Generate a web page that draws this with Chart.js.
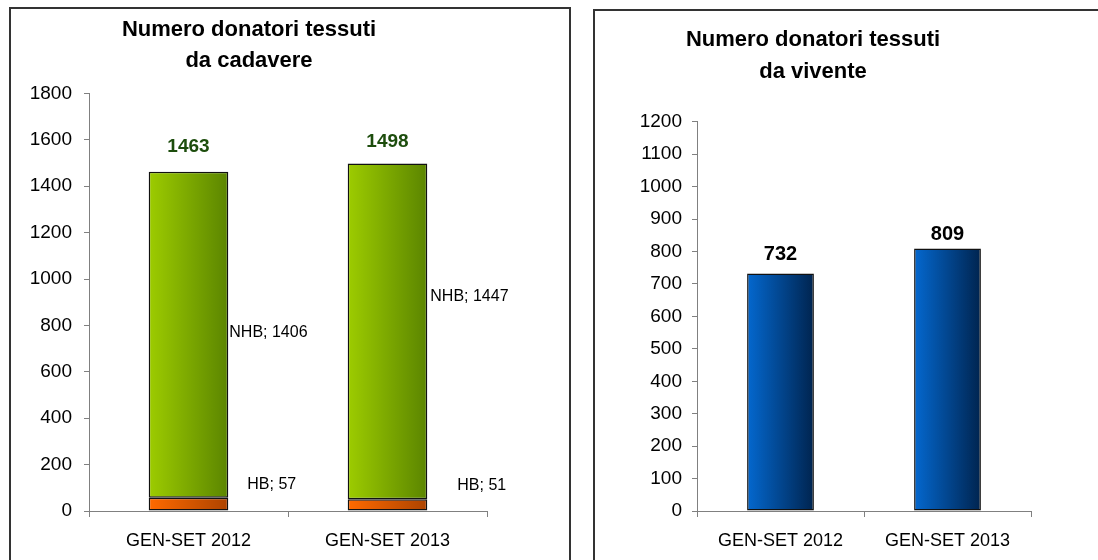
<!DOCTYPE html>
<html>
<head>
<meta charset="utf-8">
<script src="https://cdn.jsdelivr.net/npm/chart.js@4/dist/chart.umd.min.js"></script>
<style>
  html, body { margin:0; padding:0; background:#fff; width:1098px; height:560px; overflow:hidden; }
  .wrap { position:absolute; border:2px solid #333; box-sizing:content-box; background:#fff; }
  #w1 { left:9px; top:7px; width:558px; height:560px; }
  #w2 { left:593px; top:9px; width:510px; height:560px; }
  .inner { position:relative; width:100%; height:100%; }
</style>
</head>
<body>
<div class="wrap" id="w1"><div class="inner"><canvas id="c1"></canvas></div></div>
<div class="wrap" id="w2"><div class="inner"><canvas id="c2"></canvas></div></div>
<script>
// ---- data ----
const categories = ['GEN-SET 2012', 'GEN-SET 2013'];
const hbValues = [57, 51];          // HB
const nhbValues = [1406, 1447];     // NHB
const viventeValues = [732, 809];   // donatori da vivente
const cadavereTitle = ['Numero donatori tessuti', 'da cadavere'];
const viventeTitle = ['Numero donatori tessuti', 'da vivente'];

const FONT = "'Liberation Sans', Arial, Helvetica, sans-serif";
const AXIS = '#808080';

function barGradient(ctx, c1, c2) {
  const chart = ctx.chart;
  const xs = chart.scales && chart.scales.x;
  if (!chart.chartArea || !xs || ctx.dataIndex === undefined) return c1;
  const cx = xs.getPixelForValue(ctx.dataIndex);
  const w = (xs.width / categories.length) * 0.4;
  const g = chart.ctx.createLinearGradient(cx - w / 2, 0, cx + w / 2, 0);
  g.addColorStop(0, c1);
  g.addColorStop(1, c2);
  return g;
}

function xScale(h) {
  return {
    stacked: true,
    grid: { display: true, drawOnChartArea: false, offset: true, tickLength: 6, color: AXIS, tickColor: AXIS },
    border: { display: true, color: AXIS, width: 1 },
    ticks: { font: { family: FONT, size: 18 }, color: '#000', padding: 13, maxRotation: 0 },
    afterFit: (s) => { s.height = h; }
  };
}
function yScale(max, step, w, pad) {
  return {
    stacked: true,
    min: 0, max: max,
    grid: { display: true, drawOnChartArea: false, tickLength: 5, color: AXIS, tickColor: AXIS },
    border: { display: true, color: AXIS, width: 1 },
    ticks: { stepSize: step, font: { family: FONT, size: 19 }, color: '#000', padding: pad,
             callback: (v) => String(v) },
    afterFit: (s) => { s.width = w; }
  };
}

// ---- left chart: cadavere ----
const nhbShift = [{dx: 1, dy: -2}, {dx: 3, dy: -35}];
const hbShift = [{dx: 19, dy: -20}, {dx: 30, dy: -19}];
const totalShift = [25, 22];

const leftLabels = {
  id: 'leftLabels',
  afterDatasetsDraw(chart) {
    const ctx = chart.ctx;
    const mHB = chart.getDatasetMeta(0), mNHB = chart.getDatasetMeta(1);
    ctx.save();
    ctx.textBaseline = 'middle';
    categories.forEach((c, i) => {
      const b = mNHB.data[i], h = mHB.data[i];
      const right = b.x + b.width / 2;
      ctx.font = 'bold 19px ' + FONT;
      ctx.fillStyle = '#1d4d0d';
      ctx.textAlign = 'center';
      ctx.fillText(String(hbValues[i] + nhbValues[i]), b.x, b.y - totalShift[i]);
      ctx.font = '16px ' + FONT;
      ctx.fillStyle = '#000';
      ctx.textAlign = 'left';
      ctx.fillText('NHB; ' + nhbValues[i], right + nhbShift[i].dx, (b.y + b.base) / 2 + nhbShift[i].dy);
      ctx.fillText('HB; ' + hbValues[i], right + hbShift[i].dx, (h.y + h.base) / 2 + hbShift[i].dy);
    });
    ctx.restore();
  }
};

new Chart(document.getElementById('c1'), {
  type: 'bar',
  data: {
    labels: categories,
    datasets: [
      { label: 'HB', data: hbValues,
        backgroundColor: (c) => barGradient(c, '#ff6a00', '#ad4300'),
        borderColor: '#111', borderWidth: 1.5, borderSkipped: false,
        barPercentage: 0.4, categoryPercentage: 1 },
      { label: 'NHB', data: nhbValues,
        backgroundColor: (c) => barGradient(c, '#9dcc00', '#5b8500'),
        borderColor: '#111', borderWidth: 1.5, borderSkipped: false,
        barPercentage: 0.4, categoryPercentage: 1 }
    ]
  },
  options: {
    responsive: true, maintainAspectRatio: false, animation: false,
    devicePixelRatio: 1,
    layout: { padding: { left: 0, right: 82, top: 0, bottom: 0 } },
    plugins: {
      legend: { display: false },
      tooltip: { enabled: false },
      title: { display: true, text: cadavereTitle, color: '#000',
        font: { family: FONT, size: 22, weight: 'bold', lineHeight: 1.42 },
        padding: { top: 5, bottom: 17 } }
    },
    scales: { x: xScale(58), y: yScale(1800, 200, 78, 12) }
  },
  plugins: [leftLabels]
});

// ---- right chart: vivente ----
const viventeShift = [19, 14];
const rightLabels = {
  id: 'rightLabels',
  afterDatasetsDraw(chart) {
    const ctx = chart.ctx;
    const m = chart.getDatasetMeta(0);
    ctx.save();
    ctx.textBaseline = 'middle';
    ctx.textAlign = 'center';
    ctx.font = 'bold 20px ' + FONT;
    ctx.fillStyle = '#000';
    m.data.forEach((b, i) => {
      ctx.fillText(String(viventeValues[i]), b.x, b.y - viventeShift[i]);
    });
    ctx.restore();
  }
};

new Chart(document.getElementById('c2'), {
  type: 'bar',
  data: {
    labels: categories,
    datasets: [
      { label: 'Vivente', data: viventeValues,
        backgroundColor: (c) => barGradient(c, '#0468cf', '#00244f'),
        borderColor: '#111', borderWidth: 1.5, borderSkipped: false,
        barPercentage: 0.4, categoryPercentage: 1 }
    ]
  },
  options: {
    responsive: true, maintainAspectRatio: false, animation: false,
    devicePixelRatio: 1,
    layout: { padding: { left: 0, right: 74, top: 0, bottom: 0 } },
    plugins: {
      legend: { display: false },
      tooltip: { enabled: false },
      title: { display: true, text: viventeTitle, color: '#000',
        font: { family: FONT, size: 22, weight: 'bold', lineHeight: 1.45 },
        padding: { top: 13, bottom: 34 } }
    },
    scales: { x: xScale(60), y: yScale(1200, 100, 102, 10) }
  },
  plugins: [rightLabels]
});
</script>
</body>
</html>
